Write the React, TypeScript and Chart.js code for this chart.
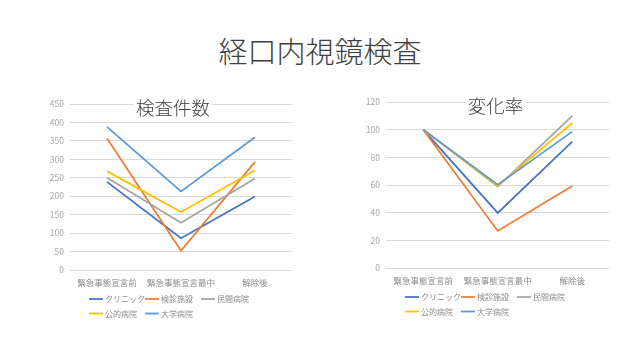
import React, { useEffect, useRef } from "react";
import { Chart, registerables } from "chart.js";

Chart.register(...registerables);

const categories = ["緊急事態宣言前", "緊急事態宣言最中", "解除後"];
const seriesNames = ["クリニック", "検診施設", "民間病院", "公的病院", "大学病院"];
const seriesColors = ["#4472C4", "#ED7D31", "#A5A5A5", "#FFC000", "#5B9BD5"];

const countClinic = [239, 86, 199];
const countKenshin = [357, 52, 293];
const countMinkan = [250, 128, 248];
const countKoteki = [268, 157, 270];
const countDaigaku = [388, 213, 360];

const rateClinic = [100, 39.8, 91.3];
const rateKenshin = [100, 26.8, 59.3];
const rateMinkan = [100, 58.8, 110];
const rateKoteki = [100, 59.3, 104.8];
const rateDaigaku = [100, 60.2, 98.6];

const countTicks = { min: 0, max: 450, step: 50 };
const rateTicks = { min: 0, max: 120, step: 20 };

const FONT = "'Noto Sans CJK JP', 'Noto Sans', sans-serif";

const overlayPlugin = {
  id: "overlay",
  afterDraw(chart: any, _args: any, opts: any) {
    const ctx = chart.ctx;
    const area = chart.chartArea;
    ctx.save();
    // title with white background
    ctx.font = `300 18.5px ${FONT}`;
    ctx.textAlign = "center";
    ctx.textBaseline = "middle";
    const tw = ctx.measureText(opts.title).width;
    ctx.fillStyle = "#ffffff";
    ctx.fillRect(opts.titleX - tw / 2 - 2, opts.titleY - 11, tw + 4, 22);
    ctx.fillStyle = "#404040";
    ctx.fillText(opts.title, opts.titleX, opts.titleY);
    // legend
    ctx.font = `8px ${FONT}`;
    ctx.textAlign = "left";
    chart.data.datasets.forEach((ds: any, i: number) => {
      const col = i % 3;
      const row = Math.floor(i / 3);
      const x = area.left + 19 + col * 56;
      const y = area.bottom + 29 + row * 14.5;
      ctx.strokeStyle = ds.borderColor;
      ctx.lineWidth = 1.75;
      ctx.beginPath();
      ctx.moveTo(x, y);
      ctx.lineTo(x + 14, y);
      ctx.stroke();
      ctx.fillStyle = "#8c8c8c";
      ctx.fillText(ds.label, x + 16, y);
    });
    ctx.restore();
  },
};

function LineChart(props: {
  series: number[][];
  ticks: { min: number; max: number; step: number };
  title: string;
  titleX: number;
  yAxisWidth: number;
  padRight: number;
  style: React.CSSProperties;
}) {
  const ref = useRef<HTMLCanvasElement>(null);
  useEffect(() => {
    if (!ref.current) return;
    const chart = new Chart(ref.current, {
      type: "line",
      data: {
        labels: categories,
        datasets: props.series.map((data, i) => ({
          label: seriesNames[i],
          data,
          borderColor: seriesColors[i],
          backgroundColor: seriesColors[i],
          borderWidth: 1.75,
          pointRadius: 0,
          tension: 0,
          fill: false,
          order: 5 - i,
        })),
      },
      options: {
        animation: false,
        responsive: false,
        maintainAspectRatio: false,
        layout: { padding: { left: 0, top: 14, right: props.padRight, bottom: 40 } },
        plugins: {
          legend: { display: false },
          tooltip: { enabled: false },
          title: { display: false },
          overlay: { title: props.title, titleX: props.titleX, titleY: 18 },
        } as any,
        scales: {
          x: {
            offset: true,
            grid: { display: false, drawTicks: false },
            border: { display: false },
            ticks: { padding: 8, color: "#8c8c8c", font: { family: FONT, size: 8.5 }, maxRotation: 0, autoSkip: false },
            afterFit: (axis: any) => {
              axis.height = 20;
            },
          },
          y: {
            min: props.ticks.min,
            max: props.ticks.max,
            grid: { color: "#d9d9d9", lineWidth: 1, drawTicks: false },
            border: { display: false },
            ticks: { stepSize: props.ticks.step, padding: 6, color: "#a6a6a6", font: { family: FONT, size: 8.5 } },
            afterFit: (axis: any) => {
              axis.width = props.yAxisWidth;
            },
          },
        },
      },
      plugins: [overlayPlugin],
    });
    return () => chart.destroy();
  }, []);
  return <canvas ref={ref} width={280} height={240} style={{ position: "absolute", ...props.style }} />;
}

export default function App() {
  return (
    <div style={{ position: "absolute", left: 0, top: 0, width: 640, height: 360, background: "#fff", overflow: "hidden" }}>
      <div
        style={{
          position: "absolute",
          left: 0,
          top: 30,
          width: 640,
          textAlign: "center",
          fontFamily: FONT,
          fontWeight: 300,
          fontSize: 29,
          lineHeight: "40px",
          color: "#404040",
        }}
      >
        経口内視鏡検査
      </div>
      <LineChart
        series={[countClinic, countKenshin, countMinkan, countKoteki, countDaigaku]}
        ticks={countTicks}
        title="検査件数"
        titleX={143}
        yAxisWidth={40}
        padRight={18}
        style={{ left: 30, top: 90 }}
      />
      <LineChart
        series={[rateClinic, rateKenshin, rateMinkan, rateKoteki, rateDaigaku]}
        ticks={rateTicks}
        title="変化率"
        titleX={149.5}
        yAxisWidth={40}
        padRight={16.5}
        style={{ left: 346, top: 88 }}
      />
    </div>
  );
}
